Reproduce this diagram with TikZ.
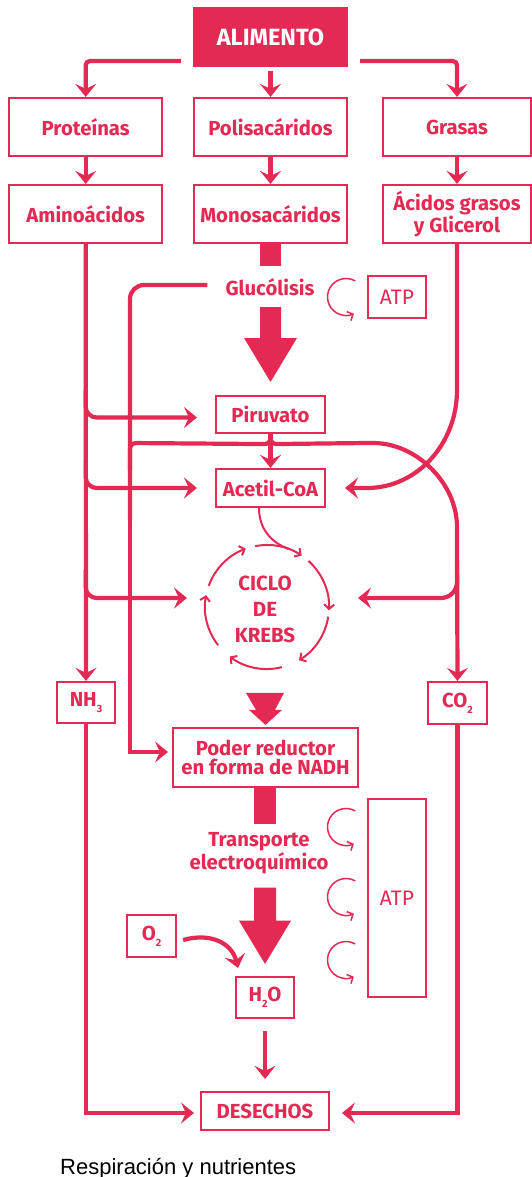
\documentclass[tikz,border=0pt]{standalone}
\usepackage{fontspec}
\setmainfont{Fira Sans}
\newfontfamily\capfont{Liberation Sans}
\usetikzlibrary{arrows.meta,calc}
\definecolor{rosa}{RGB}{228,41,84}
\newcommand{\sbs}[1]{\raisebox{-6pt}{\fontsize{10.5}{10.5}\selectfont #1}}
\begin{document}
\begin{tikzpicture}[x=1pt,y=-1pt,
  lbl/.style={text=rosa, font=\fontsize{20.3}{20.3}\selectfont\bfseries, align=center, inner sep=0pt},
  box/.style={lbl, draw=rosa, line width=2.2pt},
  bigbox/.style={box, minimum width=153pt, minimum height=58pt},
  atpbox/.style={draw=rosa, line width=2pt, text=rosa, font=\fontsize{21}{21}\selectfont, inner sep=0pt},
  plain/.style={draw=rosa, line width=4.2pt},
  conn/.style={plain, -{Stealth[length=13pt,width=21pt,inset=5pt]}},
  thin/.style={draw=rosa, line width=2pt, -{Straight Barb[length=4.5pt,width=10pt]}},
  curl/.style={draw=rosa, line width=1.5pt, -{Straight Barb[length=4.5pt,width=10pt]}},
  block/.style={fill=rosa}
]
\fill[white] (0,0) rectangle (532,1177);
\useasboundingbox (0,0) rectangle (532,1177);

% ---- nodes ----
\node[bigbox, fill=rosa, text=white, font=\fontsize{23.5}{23.5}\selectfont\bfseries] (alim) at (270.5,37) {ALIMENTO};
\node[bigbox] (prot) at (85.7,127) {Proteínas};
\node[bigbox] (poli) at (270.5,127) {Polisacáridos};
\node[bigbox, minimum width=148pt] (gras) at (457,127) {Grasas};
\node[bigbox] (amino) at (85.7,214) {Aminoácidos};
\node[bigbox] (mono) at (270.5,214) {Monosacáridos};
\node[bigbox, minimum width=148pt, font=\fontsize{20.3}{18.5}\selectfont\bfseries] (acid) at (457,214) {Ácidos grasos\\y Glicerol};
\node[lbl] (gluc) at (270,287) {Glucólisis};
\node[atpbox, minimum width=58pt, minimum height=42pt] (atp1) at (397,297) {ATP};
\node[box, minimum width=109pt, minimum height=37pt] (pir) at (270.5,414.5) {Piruvato};
\node[box, minimum width=109pt, minimum height=38pt] (acet) at (270.5,488) {Acetil-CoA};
\node[lbl, font=\fontsize{20.5}{26}\selectfont\bfseries] (krebs) at (265,609) {CICLO\\DE\\KREBS};
\coordinate (kc) at (267,607);
\node[box, minimum width=58pt, minimum height=41pt] (nh3) at (86,702.5) {NH\sbs{3}};
\node[box, minimum width=59pt, minimum height=42pt] (co2) at (457.5,703) {CO\sbs{2}};
\node[box, minimum width=185pt, minimum height=59pt, font=\fontsize{20.3}{18.5}\selectfont\bfseries] (poder) at (265.5,757.5) {Poder reductor\\en forma de NADH};
\node[lbl, font=\fontsize{20.3}{21}\selectfont\bfseries] (trans) at (259,853) {Transporte\\electroquímico};
\node[atpbox, minimum width=58pt, minimum height=198pt] (atp2) at (397,898) {ATP};
\node[box, minimum width=49pt, minimum height=42pt] (o2) at (151.5,936) {O\sbs{2}};
\node[box, minimum width=58pt, minimum height=41pt] (h2o) at (265,997.5) {H\sbs{2}O};
\node[box, minimum width=128pt, minimum height=38pt] (des) at (265,1111) {DESECHOS};
\node[anchor=base west, inner sep=0pt, font=\capfont\fontsize{22}{22}\selectfont] (cap) at (60,1174) {Respiración y nutrientes};

% ---- arrow end points ----
\coordinate (aPir) at (197,417.5);
\coordinate (aAcL) at (197,488);
\coordinate (aKL) at (187,598);
\coordinate (aKR) at (358,598);
\coordinate (aAcR) at (345,488);
\coordinate (aPod) at (168,752);
\coordinate (aDL) at (194,1113);
\coordinate (aDR) at (342,1113);
\coordinate (aH) at (238,968);

% ---- food split ----
\draw[conn, rounded corners=4pt] ($(alim.south west)+(-12,-6)$) -| (prot.north);
\draw[conn, shorten <=3.5pt] (alim.south) -- (poli.north);
\draw[conn, rounded corners=4pt] ($(alim.south east)+(12,-6)$) -| (gras.north);
\draw[conn] (prot) -- (amino);
\draw[conn] (poli) -- (mono);
\draw[conn] (gras) -- (acid);

% ---- amino acids ----
\draw[conn] (amino.south) -- (nh3.north);
\draw[conn, rounded corners=11pt] (amino.south |- 0,390) |- (aPir);
\draw[conn, rounded corners=11pt] (amino.south |- 0,460) |- (aAcL);
\draw[conn, rounded corners=11pt] (amino.south |- 0,570) |- (aKL);
\draw[conn] (nh3.south) |- (aDL);

% ---- glycolysis ----
\fill[block] ($(mono.south)+(-10.5,0)$) rectangle ($(mono.south)+(10.5,22)$);
\fill[block] ($(gluc)+(-10,20)$) -- ++(21,0) -- ++(0,31) -- ++(16,0) -- ($(pir.north)+(0,-13)$) -- ($(gluc)+(-26,51)$) -- ($(gluc)+(-10,51)$) -- cycle;
\draw[plain, rounded corners=14pt] ($(gluc.west)+(-18,-2)$) -| (130,520);
\draw[conn] (130,500) |- (aPod);

% ---- pyruvate ----
\draw[conn] (pir.south) -- (acet.north);
\draw[plain, rounded corners=6pt] (pir.south) -- ++(0,10) -- (130,443) -- (130,470);
\draw[conn, rounded corners=6pt] (pir.south) -- ++(0,10) -- (367,443) .. controls (416.7,443) and (457,483.3) .. (457,533) -- (co2.north);
\draw[conn, rounded corners=16pt] (457,560) -- (457,598) -- (aKR);
\draw[conn] (acid.south) -- (457,390) .. controls (457,444) and (417,488) .. (367,488) -- (aAcR);
\draw[conn] (co2.south) |- (aDR);

% ---- Krebs cycle ----
\draw[draw=rosa, line width=2pt] ($(acet.south)+(-11.5,0)$) .. controls ++(0,23) and (274,543.6) .. ($(kc)+(-70:62)$);
\foreach \a/\b in {-101/-56, -48/3, 9/59, 76/127, 142/191, 200/250}
  \draw[thin] ($(kc)+(\a:62)$) arc[start angle=\a, end angle=\b, radius=62];

% ---- reducing power and transport ----
\fill[block] ($(poder.north)+(-19.5,-34)$) -- ++(38,0) -- ++(-9,17) -- ++(7,0) -- ($(poder.north)+(0,-2)$) -- ($(poder.north)+(-16.5,-17)$) -- ++(7,0) -- cycle;
\fill[block] ($(poder.south)+(-11.5,0)$) rectangle ($(poder.south)+(10.5,36)$);
\fill[block] ($(trans.south)+(-5,14)$) -- ++(22,0) -- ++(0,33) -- ++(15,0) -- ($(h2o.north)+(0,-12)$) -- ($(trans.south)+(-20,47)$) -- ($(trans.south)+(-5,47)$) -- cycle;
\draw[conn] ($(o2.east)+(6,4)$) .. controls (212,932) and (232,944) .. (aH);
\draw[conn, shorten <=12pt, shorten >=12pt] (h2o.south) -- (des.north);

% ---- ATP curls ----
\foreach \cy in {297,827,897,960}
  \draw[curl] ($(346,\cy)+(-60:18.5)$) arc[start angle=-60, end angle=-295, radius=18.5];
\end{tikzpicture}
\end{document}
